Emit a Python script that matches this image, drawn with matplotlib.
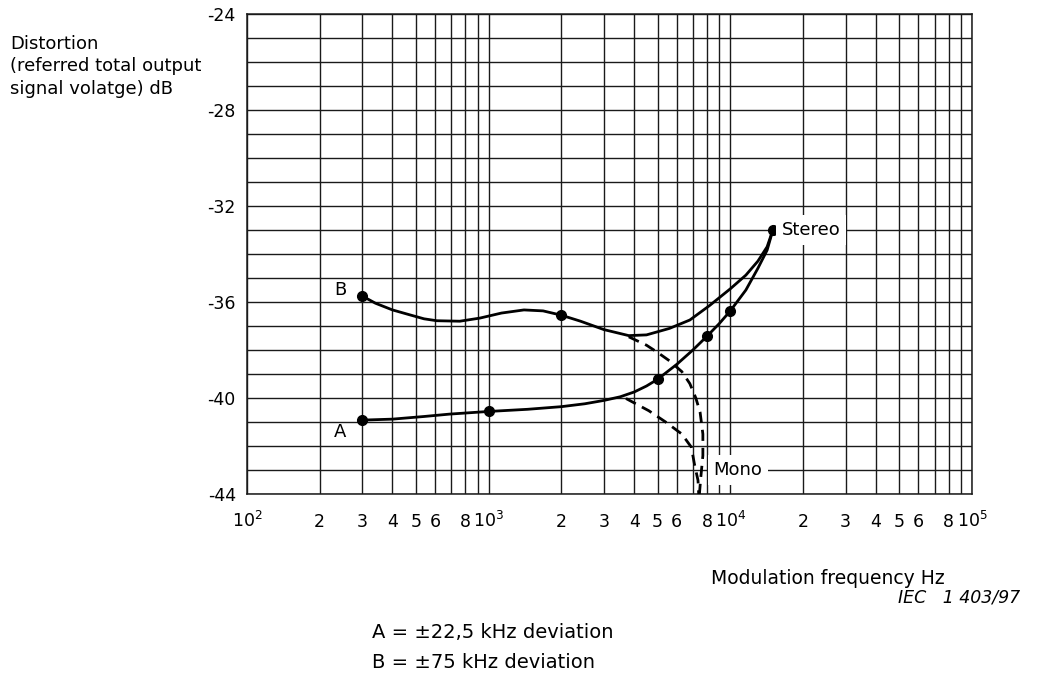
import numpy as np
import matplotlib
matplotlib.use("Agg")
import matplotlib.pyplot as plt

plt.rcParams['font.family'] = ['DejaVu Sans']
plt.rcParams['mathtext.fontset'] = 'dejavusans'

# ---- data ----
# curve B (+-75 kHz), solid
b_freq = [300, 340, 400, 470, 540, 610, 760, 920, 1130, 1400, 1680, 2000,
          2400, 3000, 3800, 4500, 5600, 6800, 8200, 10000, 11600, 13000, 14200, 15000]
b_db = [-35.75, -36.05, -36.33, -36.53, -36.7, -36.78, -36.8, -36.67, -36.46, -36.33, -36.37, -36.55,
        -36.8, -37.15, -37.4, -37.37, -37.1, -36.75, -36.15, -35.45, -34.88, -34.3, -33.7, -33.0]
b_pts_freq = [300, 2000, 15000]
b_pts_db = [-35.75, -36.55, -33.0]

# curve A (+-22,5 kHz), solid
a_freq = [300, 400, 540, 690, 1000, 1450, 2000, 2500, 3000, 3500, 4000, 4500,
          5000, 6000, 7000, 8000, 9000, 10000, 11600, 13000, 14200, 15000]
a_db = [-40.92, -40.88, -40.77, -40.67, -40.56, -40.47, -40.36, -40.24, -40.1, -39.95, -39.75, -39.5,
        -39.22, -38.6, -38.0, -37.43, -36.9, -36.37, -35.5, -34.6, -33.84, -33.0]
a_pts_freq = [300, 1000, 5000, 8000, 10000]
a_pts_db = [-40.92, -40.56, -39.22, -37.43, -36.37]

# mono branches, dashed
mono_b_freq = [3800, 4500, 5000, 5600, 6300, 6800, 7200, 7500, 7700, 7700, 7550, 7450]
mono_b_db = [-37.45, -37.8, -38.1, -38.45, -38.9, -39.4, -40.0, -40.6, -41.5, -42.4, -43.3, -44.0]
mono_a_freq = [3700, 4600, 5400, 6300, 6900, 7100, 7350, 7400]
mono_a_db = [-40.02, -40.53, -41.0, -41.5, -42.05, -42.74, -43.43, -44.0]

x_ticks = [100, 200, 300, 400, 500, 600, 700, 800, 900,
           1000, 2000, 3000, 4000, 5000, 6000, 7000, 8000, 9000,
           10000, 20000, 30000, 40000, 50000, 60000, 70000, 80000, 90000, 100000]
x_labels = [r'$\mathregular{10^2}$', '2', '3', '4', '5', '6', '', '8', '',
            r'$\mathregular{10^3}$', '2', '3', '4', '5', '6', '', '8', '',
            r'$\mathregular{10^4}$', '2', '3', '4', '5', '6', '', '8', '',
            r'$\mathregular{10^5}$']
y_ticks = list(range(-44, -23))
y_labels = [str(v) if v % 4 == 0 else '' for v in y_ticks]

fs = 12.5

# ---- plot ----
fig = plt.figure(figsize=(10.43, 6.76), dpi=100)
ax = fig.add_axes([0.2368, 0.2692, 0.6951, 0.7101])
ax.set_xscale('log')
ax.set_xlim(100, 100000)
ax.set_ylim(-44, -24)

ax.set_xticks(x_ticks, x_labels)
ax.xaxis.set_minor_locator(matplotlib.ticker.NullLocator())
ax.set_yticks(y_ticks, y_labels)
ax.tick_params(length=0, labelsize=fs, colors='black')
ax.tick_params(axis='x', pad=24)
ax.tick_params(axis='y', pad=8)
plt.setp(ax.get_xticklabels(), va='baseline')
ax.grid(True, color='#1a1a1a', linewidth=1.0)
for s in ax.spines.values():
    s.set_linewidth(1.1)
    s.set_color('#1a1a1a')

lw = 2.0
ax.plot(b_freq, b_db, color='black', linewidth=lw, zorder=3)
ax.plot(a_freq, a_db, color='black', linewidth=lw, zorder=3)
ax.plot(mono_b_freq, mono_b_db, color='black', linewidth=lw, linestyle=(0, (4, 2.5)), zorder=3)
ax.plot(mono_a_freq, mono_a_db, color='black', linewidth=lw, linestyle=(0, (4, 2.5)), zorder=3)
ax.plot(b_pts_freq, b_pts_db, 'o', color='black', markersize=7, zorder=4)
ax.plot(a_pts_freq, a_pts_db, 'o', color='black', markersize=7, zorder=4)

box = dict(facecolor='white', edgecolor='none', pad=4)
ax.text(16300, -33.0, 'Stereo', fontsize=13, ha='left', va='center', bbox=box, zorder=5)
ax.text(8500, -43.0, 'Mono', fontsize=13, ha='left', va='center', bbox=box, zorder=5)
ax.text(243, -35.5, 'B', fontsize=13, ha='center', va='center', zorder=5)
ax.text(243, -41.4, 'A', fontsize=13, ha='center', va='center', zorder=5)

fig.text(10 / 1043, 1 - 35 / 676, 'Distortion\n(referred total output\nsignal volatge) dB',
         fontsize=13, ha='left', va='top', linespacing=1.32)
fig.text(945 / 1043, 1 - 578 / 676, 'Modulation frequency Hz', fontsize=13.5, ha='right', va='center')
fig.text(1020 / 1043, 1 - 597 / 676, 'IEC   1 403/97', fontsize=12.5, style='italic', ha='right', va='center')
fig.text(372 / 1043, 1 - 633 / 676, 'A = \u00b122,5 kHz deviation', fontsize=14, ha='left', va='center')
fig.text(372 / 1043, 1 - 662 / 676, 'B = \u00b175 kHz deviation', fontsize=14, ha='left', va='center')

fig.savefig('out.png', dpi=100)
